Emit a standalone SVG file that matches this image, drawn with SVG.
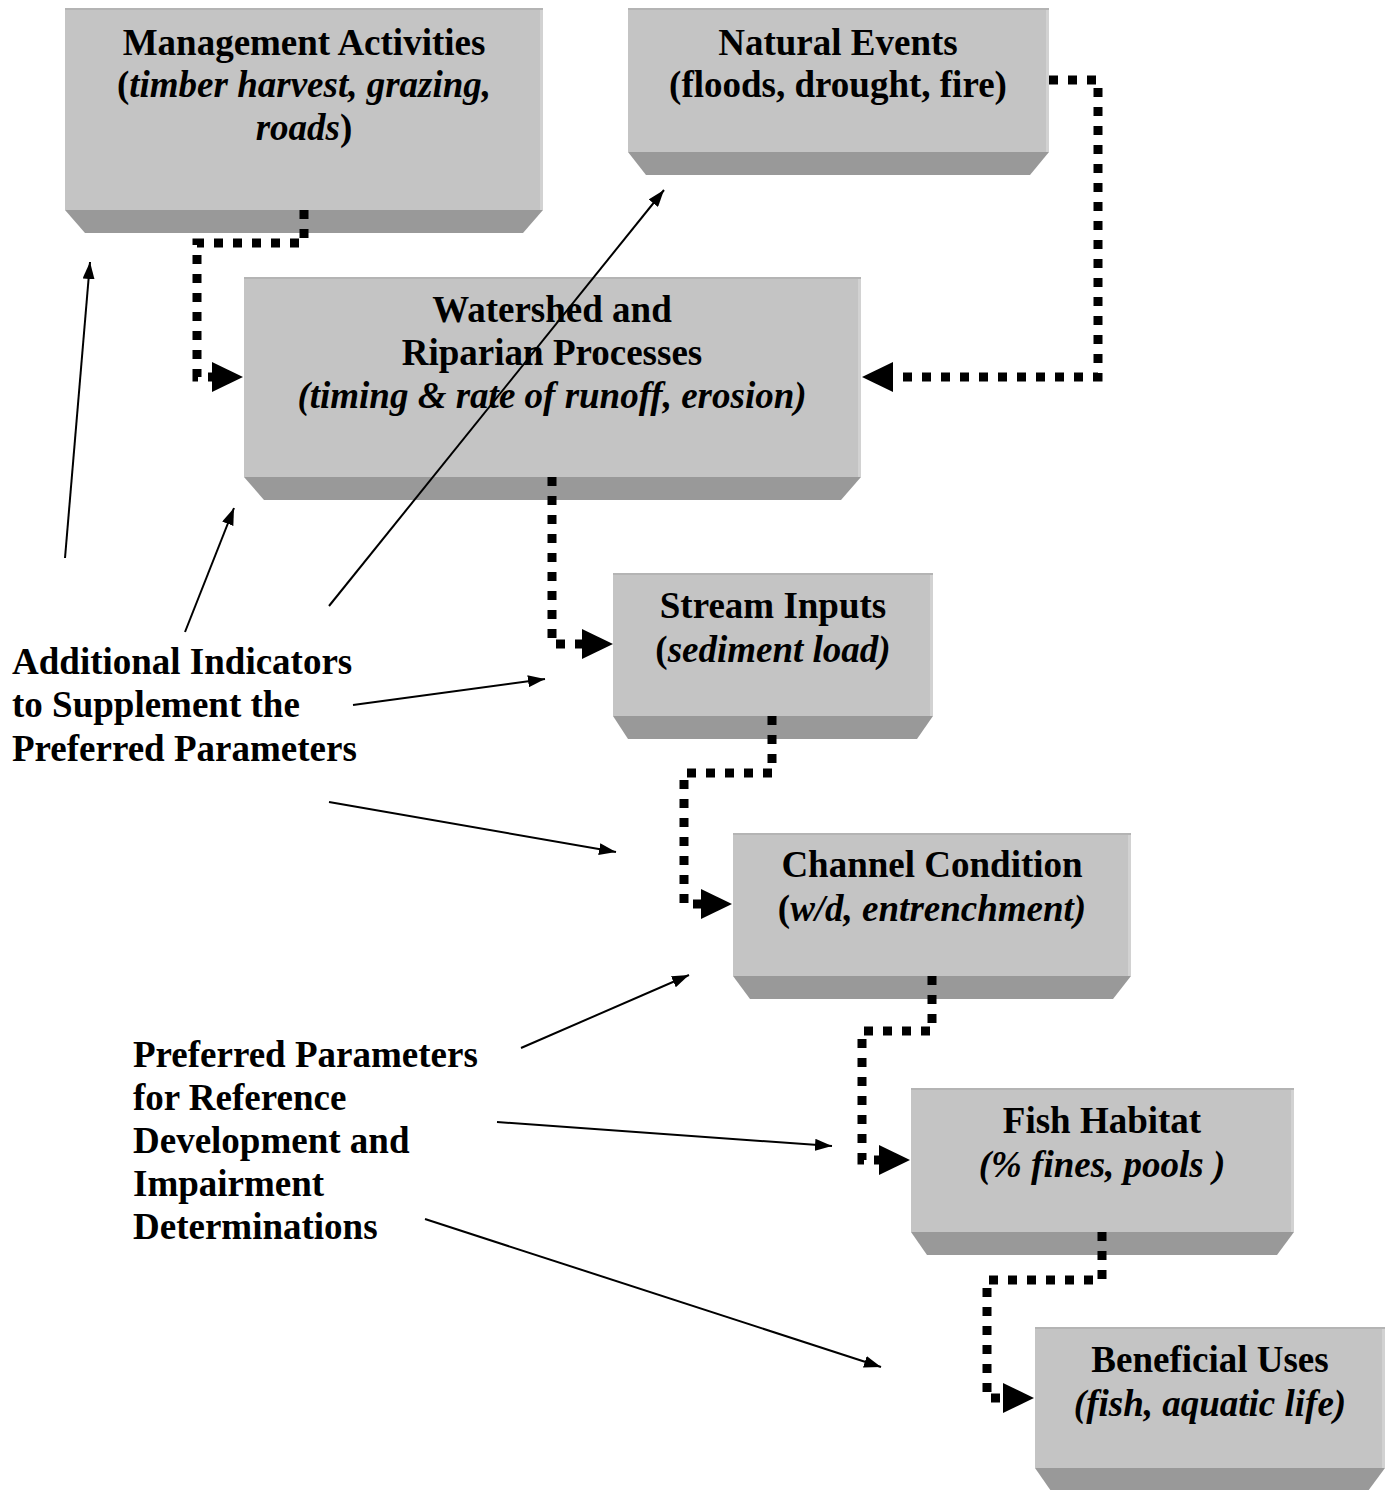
<svg xmlns="http://www.w3.org/2000/svg" width="1392" height="1490" viewBox="0 0 1392 1490">
<style>
.face{fill:#c4c4c4}
.top{fill:#b4b4b4}
.side{fill:#d2d2d2}
.bevel{fill:#999999}
.t{font-family:"Liberation Serif","Times New Roman",serif;font-size:37px;font-weight:bold;fill:#000;text-anchor:middle}
.l{font-family:"Liberation Serif","Times New Roman",serif;font-size:37px;font-weight:bold;fill:#000}
.i{font-style:italic}
.dot{fill:none;stroke:#000;stroke-width:9;stroke-dasharray:9 10}
.thin{fill:none;stroke:#000;stroke-width:2}
</style>
<defs>
<marker id="big" viewBox="0 0 31 30" markerWidth="31" markerHeight="30" refX="0" refY="15" markerUnits="userSpaceOnUse" orient="auto">
<path d="M0,0 L31,15 L0,30 z" fill="#000"/>
</marker>
<marker id="sm" viewBox="0 0 17 12" markerWidth="17" markerHeight="12" refX="17" refY="6" markerUnits="userSpaceOnUse" orient="auto">
<path d="M0,0 L17,6 L0,12 z" fill="#000"/>
</marker>
</defs>
<rect width="1392" height="1490" fill="#fff"/>

<g id="management">
<rect class="face" x="65" y="8" width="478" height="202"/>
<rect class="top" x="65" y="8" width="478" height="2"/>
<rect class="side" x="540" y="10" width="3" height="200"/>
<polygon class="bevel" points="65,210 543,210 523,233 85,233"/>
<text class="t" x="304" y="55">Management Activities</text>
<text class="t" x="304" y="97">(<tspan class="i">timber harvest, grazing,</tspan></text>
<text class="t" x="304" y="140"><tspan class="i">roads</tspan>)</text>
</g>

<g id="natural">
<rect class="face" x="628" y="8" width="421" height="144"/>
<rect class="top" x="628" y="8" width="421" height="2"/>
<rect class="side" x="1046" y="10" width="3" height="142"/>
<polygon class="bevel" points="628,152 1049,152 1030,175 646,175"/>
<text class="t" x="838" y="55">Natural Events</text>
<text class="t" x="838" y="97">(floods, drought, fire)</text>
</g>

<g id="watershed">
<rect class="face" x="244" y="277" width="617" height="200"/>
<rect class="top" x="244" y="277" width="617" height="2"/>
<rect class="side" x="858" y="279" width="3" height="198"/>
<polygon class="bevel" points="244,477 861,477 841,500 264,500"/>
<text class="t" x="552" y="322">Watershed and</text>
<text class="t" x="552" y="365">Riparian Processes</text>
<text class="t i" x="552" y="408">(timing &amp; rate of runoff, erosion)</text>
</g>

<g id="stream">
<rect class="face" x="613" y="573" width="320" height="143"/>
<rect class="top" x="613" y="573" width="320" height="2"/>
<rect class="side" x="930" y="575" width="3" height="141"/>
<polygon class="bevel" points="613,716 933,716 917,739 628,739"/>
<text class="t" x="773" y="618">Stream Inputs</text>
<text class="t" x="773" y="662">(<tspan class="i">sediment load)</tspan></text>
</g>

<g id="channel">
<rect class="face" x="733" y="833" width="398" height="143"/>
<rect class="top" x="733" y="833" width="398" height="2"/>
<rect class="side" x="1128" y="835" width="3" height="141"/>
<polygon class="bevel" points="733,976 1131,976 1113,999 750,999"/>
<text class="t" x="932" y="877">Channel Condition</text>
<text class="t" x="932" y="921">(<tspan class="i">w/d, entrenchment)</tspan></text>
</g>

<g id="fish">
<rect class="face" x="911" y="1088" width="383" height="144"/>
<rect class="top" x="911" y="1088" width="383" height="2"/>
<rect class="side" x="1291" y="1090" width="3" height="142"/>
<polygon class="bevel" points="911,1232 1294,1232 1277,1255 927,1255"/>
<text class="t" x="1102" y="1133">Fish Habitat</text>
<text class="t i" x="1102" y="1177">(% fines, pools )</text>
</g>

<g id="beneficial">
<rect class="face" x="1035" y="1327" width="350" height="141"/>
<rect class="top" x="1035" y="1327" width="350" height="2"/>
<rect class="side" x="1382" y="1329" width="3" height="139"/>
<polygon class="bevel" points="1035,1468 1385,1468 1368,1491 1051,1491"/>
<text class="t" x="1210" y="1372">Beneficial Uses</text>
<text class="t i" x="1210" y="1416">(fish, aquatic life)</text>
</g>

<g id="label-additional">
<text class="l" x="12" y="674">Additional Indicators</text>
<text class="l" x="12" y="717">to Supplement the</text>
<text class="l" x="12" y="761">Preferred Parameters</text>
</g>

<g id="label-preferred">
<text class="l" x="133" y="1067">Preferred Parameters</text>
<text class="l" x="133" y="1110">for Reference</text>
<text class="l" x="133" y="1153">Development and</text>
<text class="l" x="133" y="1196">Impairment</text>
<text class="l" x="133" y="1239">Determinations</text>
</g>

<g id="connectors">
<polyline class="dot" points="304,210 304,243 197,243 197,377 212,377" marker-end="url(#big)"/>
<polyline class="dot" points="1049,80 1098,80 1098,377 893,377" marker-end="url(#big)"/>
<polyline class="dot" points="552,477 552,644 582,644" marker-end="url(#big)"/>
<polyline class="dot" points="772,716 772,773 684,773 684,904 701,904" marker-end="url(#big)"/>
<polyline class="dot" points="932,976 932,1031 862,1031 862,1160 879,1160" marker-end="url(#big)"/>
<polyline class="dot" points="1102,1232 1102,1280 987,1280 987,1398 1003,1398" marker-end="url(#big)"/>
<line class="thin" x1="65" y1="558" x2="90" y2="262" marker-end="url(#sm)"/>
<line class="thin" x1="185" y1="632" x2="234" y2="508" marker-end="url(#sm)"/>
<line class="thin" x1="329" y1="606" x2="664" y2="190" marker-end="url(#sm)"/>
<line class="thin" x1="353" y1="705" x2="545" y2="679" marker-end="url(#sm)"/>
<line class="thin" x1="329" y1="802" x2="616" y2="852" marker-end="url(#sm)"/>
<line class="thin" x1="521" y1="1048" x2="689" y2="975" marker-end="url(#sm)"/>
<line class="thin" x1="497" y1="1122" x2="832" y2="1146" marker-end="url(#sm)"/>
<line class="thin" x1="425" y1="1219" x2="881" y2="1367" marker-end="url(#sm)"/>
</g>
</svg>
